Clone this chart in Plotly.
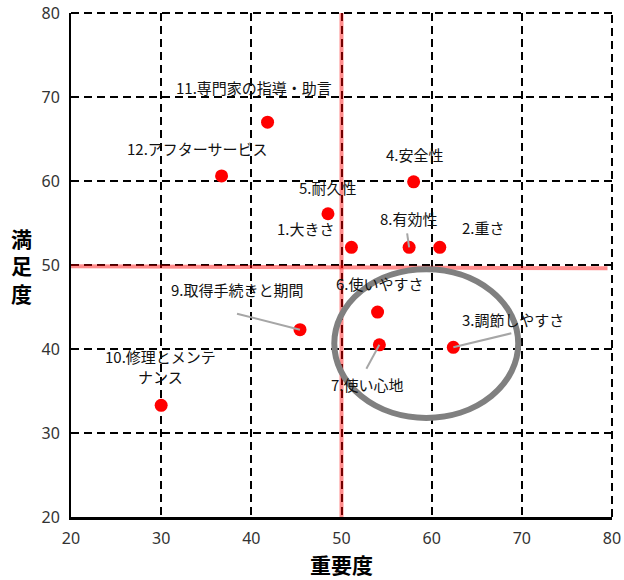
import plotly.graph_objects as go

# Importance / satisfaction scores per item
items = ["1.大きさ", "2.重さ", "3.調節しやすさ", "4.安全性", "5.耐久性", "6.使いやすさ",
         "7.使い心地", "8.有効性", "9.取得手続きと期間", "10.修理とメンテ<br>ナンス",
         "11.専門家の指導・助言", "12.アフターサービス"]
importance = [51.1, 60.9, 62.4, 58.0, 48.5, 54.0, 54.2, 57.5, 45.4, 30.0, 41.8, 36.7]
satisfaction = [52.1, 52.1, 40.2, 59.9, 56.1, 44.4, 40.5, 52.1, 42.3, 33.3, 67.0, 60.6]

# Average reference lines
importance_avg = 50.0
satisfaction_avg_left = 49.85
satisfaction_avg_right = 49.6

axis_ticks = [20, 30, 40, 50, 60, 70, 80]

# Label placement (pixel offsets from each marker: right, up)
label_offsets = [(-45, 19), (44, 20), (60, 28), (1, 27), (0, 26), (2, 29),
                 (-12, -40), (0, 29), (-63, 40), (-1, 39), (-14, 35), (-24, 27)]
# Leader lines (item index -> pixel offset of the far end)
leaders = {2: (58, 14), 6: (-13, -24), 7: (-2, 14), 8: (-63, 16)}

LABEL_FONT = dict(family="Noto Sans CJK JP", size=15, color="#111")
TICK_FONT = dict(family="Noto Sans", size=16, color="#333")
GRID_DASH = "8px,5px"
AVG_LINE = dict(color="rgba(255,0,0,0.45)", width=4)

fig = go.Figure()
fig.add_trace(go.Scatter(
    x=importance, y=satisfaction, mode="markers",
    marker=dict(color="#ff0000", size=13, line=dict(width=0)),
    hoverinfo="skip", showlegend=False,
))

shapes = []
# Dashed frame on the top and right edges
shapes.append(dict(type="line", xref="paper", yref="paper", x0=0, x1=1, y0=1, y1=1,
                   line=dict(color="#000", width=2, dash=GRID_DASH), layer="below"))
shapes.append(dict(type="line", xref="paper", yref="paper", x0=1, x1=1, y0=0, y1=1,
                   line=dict(color="#000", width=2, dash=GRID_DASH), layer="below"))
# Average lines
shapes.append(dict(type="line", xref="x", yref="y",
                   x0=importance_avg, x1=importance_avg, y0=19.5, y1=80,
                   line=AVG_LINE, layer="above"))
shapes.append(dict(type="line", xref="x", yref="y",
                   x0=19.5, x1=79.5, y0=satisfaction_avg_left, y1=satisfaction_avg_right,
                   line=AVG_LINE, layer="above"))
# Highlight ellipse
shapes.append(dict(type="circle", xref="x", yref="y",
                   x0=49.2, x1=69.6, y0=31.8, y1=49.5,
                   line=dict(color="#808080", width=6), layer="above"))
# Leader lines
for i, (dx, dy) in leaders.items():
    shapes.append(dict(type="line", xref="x", yref="y",
                       xsizemode="pixel", ysizemode="pixel",
                       xanchor=importance[i], yanchor=satisfaction[i],
                       x0=0, y0=0, x1=dx, y1=dy,
                       line=dict(color="#a6a6a6", width=2), layer="above"))

annotations = []
for i, name in enumerate(items):
    dx, dy = label_offsets[i]
    annotations.append(dict(x=importance[i], y=satisfaction[i], xref="x", yref="y",
                            text=name, showarrow=False, xshift=dx, yshift=dy,
                            align="center", font=LABEL_FONT))
# Vertical y-axis title
annotations.append(dict(x=0, y=0.5, xref="paper", yref="paper", xshift=-50,
                        xanchor="center", yanchor="middle",
                        text="満<br>足<br>度", showarrow=False, align="center",
                        font=dict(family="Noto Sans CJK JP", size=21, color="#000",
                                  weight="bold")))

axis_common = dict(
    range=[20, 80], tickvals=axis_ticks, showgrid=True, gridcolor="#000",
    gridwidth=2, griddash=GRID_DASH, zeroline=False, showline=True,
    linecolor="#000", ticks="", tickfont=TICK_FONT, fixedrange=True,
    automargin=False,
)

fig.update_layout(
    width=624, height=580,
    margin=dict(l=71, r=12, t=13, b=63),
    paper_bgcolor="#ffffff", plot_bgcolor="#ffffff",
    xaxis=dict(axis_common, linewidth=3, ticklabelstandoff=5,
               title=dict(text="重要度", standoff=10,
                          font=dict(family="Noto Sans CJK JP", size=21,
                                    color="#000", weight="bold"))),
    yaxis=dict(axis_common, linewidth=2, ticklabelstandoff=6),
    shapes=shapes,
    annotations=annotations,
)

fig.write_html("out.html")
